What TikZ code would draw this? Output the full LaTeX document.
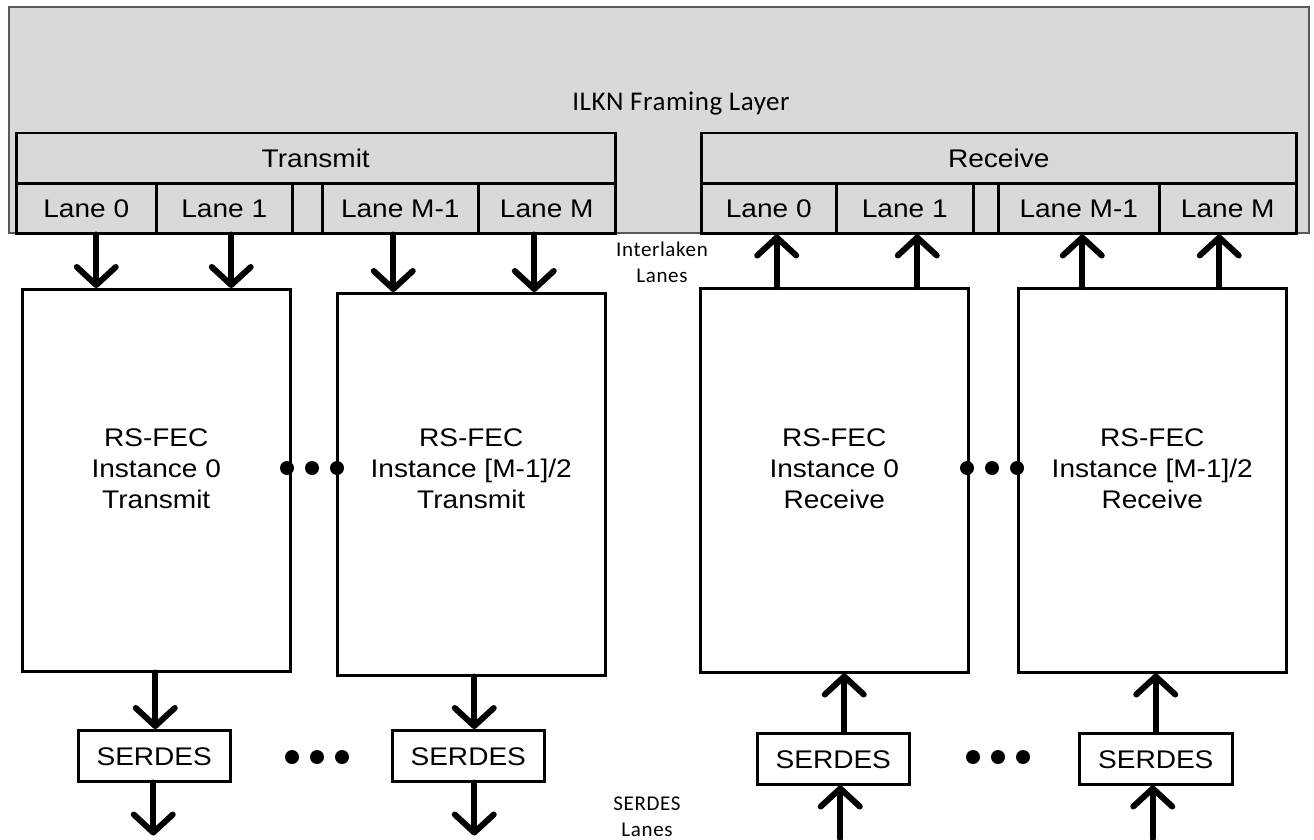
\documentclass[tikz,border=0pt]{standalone}
\usepackage{fontspec}
\setmainfont{Liberation Sans}[FakeStretch=1.1]
\newfontfamily\carlfont{Carlito}
\usetikzlibrary{arrows.meta,calc}
\definecolor{layergray}{HTML}{D9D9D9}
\definecolor{bordergray}{HTML}{595959}
\newcommand\mainf{\fontsize{25.5}{31}\selectfont}
\begin{document}
\begin{tikzpicture}[x=1pt,y=-1pt,
  box/.style={draw=black, line width=2.5pt, inner sep=0pt, anchor=north west, font=\mainf, align=center, text height=18.5pt, text depth=0pt},
  gbox/.style={box, fill=layergray},
  wbox/.style={box, fill=white},
  boxtxt/.style={font=\mainf, align=center, inner sep=0pt},
  arr/.style={line width=6pt, line cap=round, -{Straight Barb[length=18pt,width=39pt,round]}},
  dot/.style={circle, fill=black, inner sep=0pt, minimum size=14pt},
  smalltxt/.style={font=\carlfont\fontsize{21}{26}\selectfont\addfontfeature{LetterSpace=3}, align=center, inner sep=0pt}
]
\useasboundingbox (0,0) rectangle (1314,840);
\fill[white] (0,0) rectangle (1314,840);

% ILKN framing layer
\node[draw=bordergray, fill=layergray, line width=2pt, inner sep=0pt, anchor=north west,
      minimum width=1300pt, minimum height=226pt] (ilkn) at (8,6) {};
\node[font=\carlfont\fontsize{27}{30}\selectfont\addfontfeature{LetterSpace=2}, inner sep=0pt] (ilkntxt) at (681,104) {ILKN Framing Layer};

% Transmit block
\node[gbox, minimum width=599pt, minimum height=50pt] (txh) at (15,132) {Transmit};
\node[gbox, minimum width=140pt, minimum height=50pt] (tl0) at (15,182) {Lane 0};
\node[gbox, minimum width=136pt, minimum height=50pt] (tl1) at (155,182) {Lane 1};
\node[gbox, minimum width=30pt,  minimum height=50pt] (tlg) at (291,182) {};
\node[gbox, minimum width=156pt, minimum height=50pt] (tlm1) at (321,182) {Lane M-1};
\node[gbox, minimum width=137pt, minimum height=50pt] (tlm) at (477,182) {Lane M};

% Receive block
\node[gbox, minimum width=595pt, minimum height=50pt] (rxh) at (700,132) {Receive};
\node[gbox, minimum width=135pt, minimum height=50pt] (rl0) at (700,182) {Lane 0};
\node[gbox, minimum width=137pt, minimum height=50pt] (rl1) at (835,182) {Lane 1};
\node[gbox, minimum width=25pt,  minimum height=50pt] (rlg) at (972,182) {};
\node[gbox, minimum width=161pt, minimum height=50pt] (rlm1) at (997,182) {Lane M-1};
\node[gbox, minimum width=137pt, minimum height=50pt] (rlm) at (1158,182) {Lane M};

% RS-FEC instances
\node[wbox, minimum width=268pt, minimum height=382pt] (tx0) at (21,288) {};
\node[wbox, minimum width=268pt, minimum height=382pt] (tx1) at (336,292) {};
\node[wbox, minimum width=268pt, minimum height=384pt] (rx0) at (699,287) {};
\node[wbox, minimum width=268pt, minimum height=384pt] (rx1) at (1017,287) {};
\node[boxtxt] (tx0t) at (tx0.center |- 0,469) {RS-FEC\\Instance 0\\Transmit};
\node[boxtxt] (tx1t) at (tx1.center |- 0,469) {RS-FEC\\Instance [M-1]/2\\Transmit};
\node[boxtxt] (rx0t) at (rx0.center |- 0,469) {RS-FEC\\Instance 0\\Receive};
\node[boxtxt] (rx1t) at (rx1.center |- 0,469) {RS-FEC\\Instance [M-1]/2\\Receive};

% SERDES
\node[wbox, minimum width=152pt, minimum height=51pt] (ts0) at (77,729) {SERDES};
\node[wbox, minimum width=152pt, minimum height=51pt] (ts1) at (391,729) {SERDES};
\node[wbox, minimum width=152pt, minimum height=51pt] (rs0) at (756,732) {SERDES};
\node[wbox, minimum width=153pt, minimum height=51pt] (rs1) at (1078,732) {SERDES};

% labels
\node[smalltxt] (illbl) at (662,262) {Interlaken\\Lanes};
\node[smalltxt] (sdlbl) at (647,817) {SERDES\\Lanes};

% lane arrows (transmit: down)
\draw[arr] ([xshift=10pt]tl0.south) -- ([xshift=10pt]tl0.south |- tx0.north);
\draw[arr] ([xshift=7pt]tl1.south) -- ([xshift=7pt]tl1.south |- tx0.north);
\draw[arr] ([xshift=-7pt]tlm1.south) -- ([xshift=-7pt]tlm1.south |- tx1.north);
\draw[arr] ([xshift=-12.5pt]tlm.south) -- ([xshift=-12.5pt]tlm.south |- tx1.north);

% lane arrows (receive: up)
\draw[arr] ([xshift=8pt]rl0.south |- rx0.north) -- ([xshift=8pt]rl0.south);
\draw[arr] ([xshift=12.5pt]rl1.south |- rx0.north) -- ([xshift=12.5pt]rl1.south);
\draw[arr] ([xshift=3.5pt]rlm1.south |- rx1.north) -- ([xshift=3.5pt]rlm1.south);
\draw[arr] ([xshift=-8.5pt]rlm.south |- rx1.north) -- ([xshift=-8.5pt]rlm.south);

% RS-FEC <-> SERDES
\draw[arr] ([xshift=1pt]ts0.north |- tx0.south) -- ([xshift=1pt]ts0.north);
\draw[arr] ([xshift=6pt]ts1.north |- tx1.south) -- ([xshift=6pt]ts1.north);
\draw[arr] ([xshift=11pt]rs0.north) -- ([xshift=11pt]rs0.north |- rx0.south);
\draw[arr] (rs1.north) -- (rs1.north |- rx1.south);

% SERDES lanes
\coordinate (to0) at ($(ts0.south)+(-1,53)$);
\coordinate (to1) at ($(ts1.south)+(6,53)$);
\coordinate (ri0) at ($(rs0.south)+(7,53)$);
\coordinate (ri1) at ($(rs1.south)+(-3,53)$);
\draw[arr] ([xshift=-1pt]ts0.south) -- (to0);
\draw[arr] ([xshift=6pt]ts1.south) -- (to1);
\draw[arr] (ri0) -- ([xshift=7pt]rs0.south);
\draw[arr] (ri1) -- ([xshift=-3pt]rs1.south);

% ellipsis dots
\node[dot] (tda) at (287,468) {};
\node[dot] (tdb) at (312,468) {};
\node[dot] (tdc) at (337,468) {};
\node[dot] (rda) at (967,468) {};
\node[dot] (rdb) at (992,468) {};
\node[dot] (rdc) at (1017,468) {};
\node[dot] (sda) at (292,757) {};
\node[dot] (sdb) at (317,757) {};
\node[dot] (sdc) at (342,757) {};
\node[dot] (rsa) at (973,757) {};
\node[dot] (rsb) at (998,757) {};
\node[dot] (rsc) at (1023,757) {};
\end{tikzpicture}
\end{document}
